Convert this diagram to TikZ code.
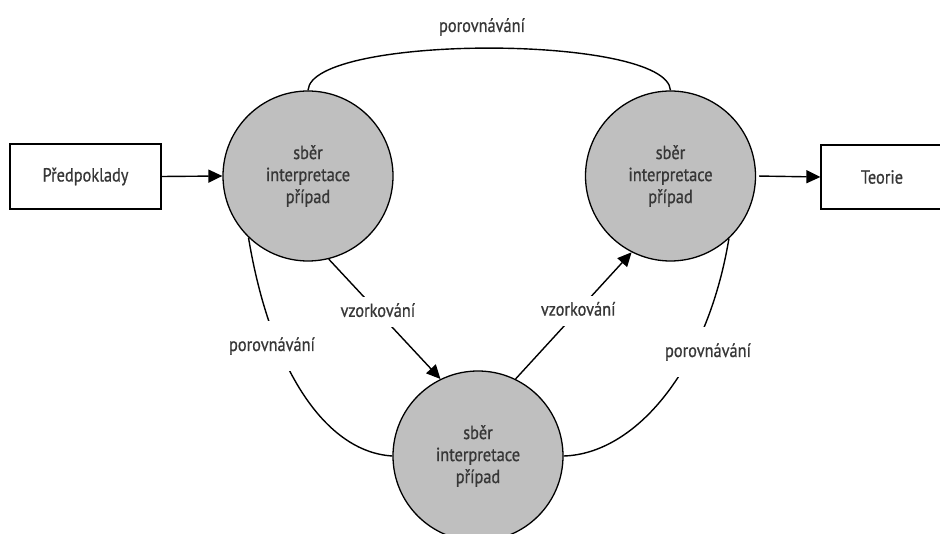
\documentclass[tikz,border=0pt]{standalone}
\usepackage{fontspec}
\setmainfont{PT Sans}[FakeStretch=0.86, FakeBold=0.7]
\usetikzlibrary{arrows.meta}
\definecolor{inkgray}{RGB}{55,55,55}
\definecolor{discfill}{RGB}{191,191,191}
\begin{document}
\begin{tikzpicture}[x=1pt,y=-1pt,
  every node/.style={font=\fontsize{19}{22}\selectfont, text=inkgray},
  disc/.style={circle, draw=black, line width=1.3pt, fill=discfill,
    minimum size=170pt, align=center, inner sep=0pt},
  endbox/.style={draw=black, line width=1.3pt, fill=white, inner sep=0pt},
  link/.style={draw=black, line width=1.4pt},
  flow/.style={link, -{Triangle[length=14pt,width=13pt]}},
  gaplabel/.style={fill=white, inner xsep=2pt, inner ysep=6pt,
    text height=14pt, text depth=4pt}
]
\useasboundingbox (0,0) rectangle (940,534);

% the three stages of the cycle
\node[disc] (c1) at (308,176) {sběr\\interpretace\\případ};
\node[disc] (c2) at (670.5,176) {sběr\\interpretace\\případ};
\node[disc] (c3) at (478,456) {sběr\\interpretace\\případ};

% input and output
\node[endbox, minimum width=151pt, minimum height=65pt] (pre) at (85.5,176.5) {Předpoklady};
\node[endbox, minimum width=122pt, minimum height=64pt] (teo) at (882,177) {Teorie};

\draw[flow] (pre.east) -- (c1.west);
\draw[flow, shorten <=3pt] (c2.east) -- (teo.west);

% comparison links
\draw[link] (c1.north) .. controls (311,34) and (667,34) .. (c2.north);
\node (cmpT) at (482,27) {porovnávání};

\draw[link] (c1.-134) .. controls (270,368) and (325,452) .. (c3.west);
\node[gaplabel, inner ysep=16pt] (cmpL) at (272,346) {porovnávání};

\draw[link] (c2.-47) .. controls (707,370) and (635,454) .. (c3.east);
\node[gaplabel, inner ysep=16pt] (cmpR) at (708,352) {porovnávání};

% sampling links
\draw[flow] (c1.-76) -- node[gaplabel, pos=0.44] (smpL) {vzorkování} (c3.116);
\draw[flow] (c3.64) -- node[gaplabel, pos=0.54] (smpR) {vzorkování} (c2.243.5);
\end{tikzpicture}
\end{document}
